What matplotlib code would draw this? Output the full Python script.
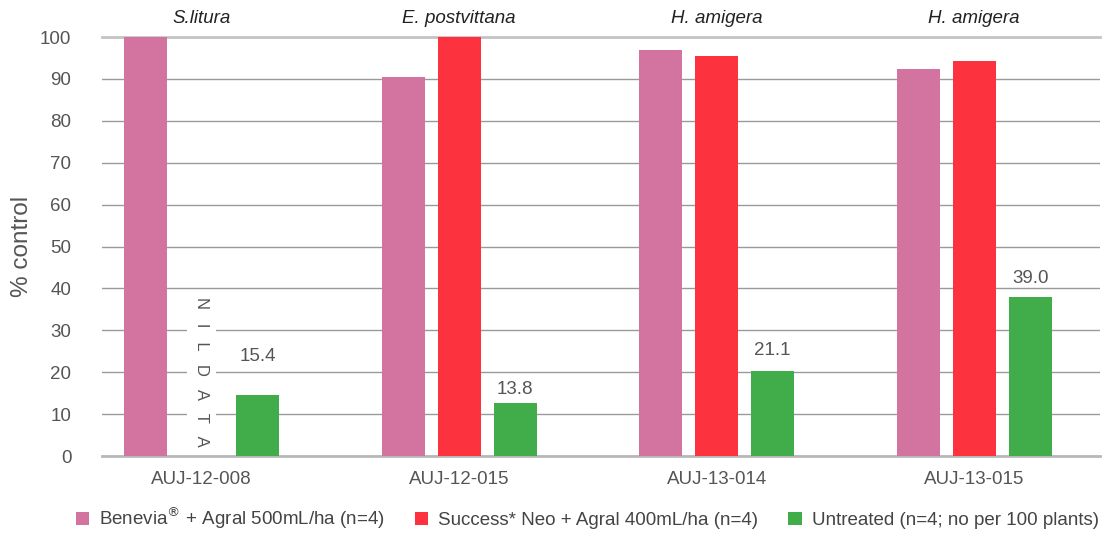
import numpy as np
import matplotlib.pyplot as plt

plt.rcParams['font.family'] = ['Liberation Sans', 'DejaVu Sans']

trials = ["AUJ-12-008", "AUJ-12-015", "AUJ-13-014", "AUJ-13-015"]
pests = ["S.litura", "E. postvittana", "H. amigera", "H. amigera"]
benevia = [100, 90.4, 96.9, 92.4]
success = [np.nan, 100, 95.5, 94.3]
untreated = [14.6, 12.7, 20.3, 37.9]
untreated_labels = ["15.4", "13.8", "21.1", "39.0"]

series = [
    (r"Benevia$^{\circledR}$ + Agral 500mL/ha (n=4)", benevia, "#d3739f"),
    ("Success* Neo + Agral 400mL/ha (n=4)", success, "#fc333f"),
    ("Untreated (n=4; no per 100 plants)", untreated, "#40ad4a"),
]

fig = plt.figure(figsize=(11.02, 5.45), dpi=100)
ax = fig.add_axes([0.0926, 0.1633, 0.9054, 0.7688])

x = np.arange(len(trials))
w = 0.167
step = 0.2174
for i, (name, vals, col) in enumerate(series):
    ax.bar(x + (i - 1) * step, vals, w, color=col, label=name, zorder=3)

# value labels over the untreated bars (pixel offsets)
lift = [30, 5, 12, 10]
for xi, v, t, d in zip(x, untreated, untreated_labels, lift):
    ax.annotate(t, (xi + step, v), xytext=(0, d * 0.72), textcoords="offset points",
                ha="center", va="bottom", fontsize=13.5, color="#555555")

# no data for Success in first trial
ax.text(x[0], 20.0, "N   I   L   D   A   T   A", rotation=270, ha="center", va="center",
        fontsize=12, color="#555555", zorder=4,
        bbox=dict(facecolor="white", edgecolor="none", pad=5))

for xi, p in zip(x, pests):
    ax.text(xi, 104.3, p, ha="center", va="center", fontsize=13.5, style="italic",
            color="#222222")

ax.set_xlim(-0.387, 3.488)
ax.set_ylim(0, 100)
ax.set_yticks(np.arange(0, 101, 10))
ax.set_xticks(x)
ax.set_xticklabels(trials)
ax.tick_params(axis="both", length=0, labelsize=13.5, colors="#555555")
ax.tick_params(axis="y", pad=22)
ax.tick_params(axis="x", pad=11)
ax.yaxis.grid(True, color="#9a9a9a", linewidth=1.0, zorder=0)
ax.set_axisbelow(True)
for s in ["left", "right"]:
    ax.spines[s].set_visible(False)
ax.spines["top"].set_color("#c4c4c4")
ax.spines["top"].set_linewidth(2)
ax.spines["bottom"].set_color("#b8b8b8")
ax.spines["bottom"].set_linewidth(2)

ax.set_ylabel("% control", fontsize=17.5, color="#555555", labelpad=5)

fig.legend(loc="lower center", bbox_to_anchor=(0.533, -0.005), ncol=3, frameon=False,
           fontsize=13.5, handlelength=0.7, handleheight=0.7, handletextpad=0.55,
           columnspacing=1.6, labelcolor="#444444")

fig.savefig("out.png", dpi=100)
